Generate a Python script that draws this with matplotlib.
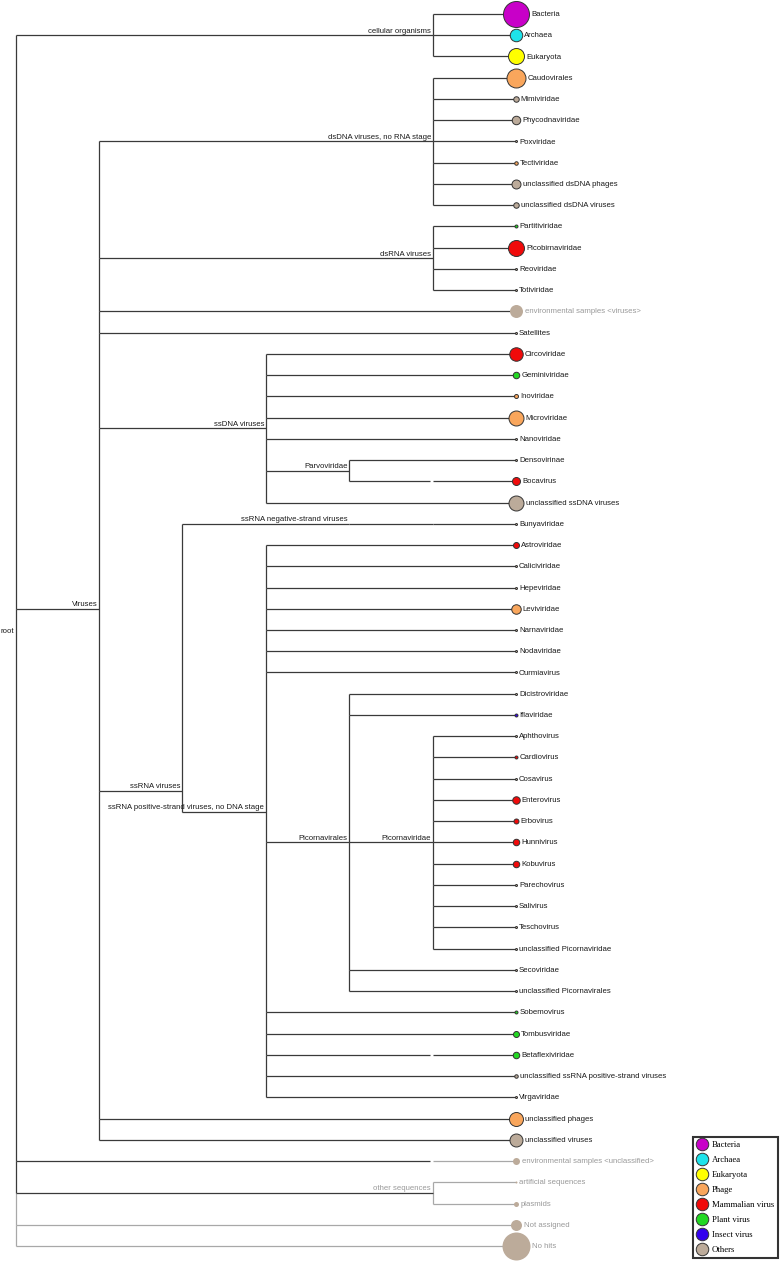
import matplotlib
matplotlib.use("Agg")
import matplotlib.pyplot as plt
from matplotlib.lines import Line2D

# ---- data ----
legend_groups = ["Bacteria", "Archaea", "Eukaryota", "Phage", "Mammalian virus",
                 "Plant virus", "Insect virus", "Others"]
group_colors = ["#c800c8", "#1ee3ea", "#ffff00", "#f9a65c", "#f00a0a",
                "#22d822", "#3300ee", "#bcab9a"]

leaf_names = [
    "Bacteria", "Archaea", "Eukaryota",
    "Caudovirales", "Mimiviridae", "Phycodnaviridae", "Poxviridae", "Tectiviridae",
    "unclassified dsDNA phages", "unclassified dsDNA viruses",
    "Partitiviridae", "Picobirnaviridae", "Reoviridae", "Totiviridae",
    "environmental samples <viruses>", "Satellites",
    "Circoviridae", "Geminiviridae", "Inoviridae", "Microviridae", "Nanoviridae",
    "Densovirinae", "Bocavirus", "unclassified ssDNA viruses",
    "Bunyaviridae",
    "Astroviridae", "Caliciviridae", "Hepeviridae", "Leviviridae", "Narnaviridae",
    "Nodaviridae", "Ourmiavirus", "Dicistroviridae", "Iflaviridae",
    "Aphthovirus", "Cardiovirus", "Cosavirus", "Enterovirus", "Erbovirus",
    "Hunnivirus", "Kobuvirus", "Parechovirus", "Salivirus", "Teschovirus",
    "unclassified Picornaviridae", "Secoviridae", "unclassified Picornavirales",
    "Sobemovirus", "Tombusviridae", "Betaflexiviridae",
    "unclassified ssRNA positive-strand viruses", "Virgaviridae",
    "unclassified phages", "unclassified viruses",
    "environmental samples <unclassified>", "artificial sequences", "plasmids",
    "Not assigned", "No hits",
]
leaf_groups = [
    "Bacteria", "Archaea", "Eukaryota",
    "Phage", "Others", "Others", "Others", "Phage", "Others", "Others",
    "Plant virus", "Mammalian virus", "Others", "Others",
    "Others", "Others",
    "Mammalian virus", "Plant virus", "Phage", "Phage", "Others",
    "Others", "Mammalian virus", "Others",
    "Others",
    "Mammalian virus", "Others", "Others", "Phage", "Others",
    "Others", "Others", "Others", "Insect virus",
    "Others", "Mammalian virus", "Others", "Mammalian virus", "Mammalian virus",
    "Mammalian virus", "Mammalian virus", "Others", "Others", "Others",
    "Others", "Others", "Others",
    "Plant virus", "Plant virus", "Plant virus", "Others", "Others",
    "Phage", "Others",
    "Others", "Others", "Others", "Others", "Others",
]
# relative abundance, as circle diameter
leaf_weight = [
    26, 12.5, 16,
    19, 5.5, 8.5, 2, 3.5, 9, 5.5,
    3, 16, 2, 2,
    13, 2,
    13.5, 6.5, 4, 15, 2,
    2, 8, 15,
    2,
    6, 2, 2, 9.5, 2,
    2, 2, 2, 3,
    2, 3, 2, 7.5, 5,
    6.5, 6.5, 2, 2, 2,
    2, 2, 2,
    3, 6, 6.5, 3.5, 2,
    14, 13,
    7, 2, 5, 11, 28,
]
faded = ["environmental samples <unclassified>", "artificial sequences",
         "plasmids", "Not assigned", "No hits"]
grey_text = faded + ["environmental samples <viruses>", "other sequences"]

# tree: (label, children); label None = hidden rank drawn as a gap
tree = ("root", [
    ("cellular organisms", ["Bacteria", "Archaea", "Eukaryota"]),
    ("Viruses", [
        ("dsDNA viruses, no RNA stage", [
            "Caudovirales", "Mimiviridae", "Phycodnaviridae", "Poxviridae",
            "Tectiviridae", "unclassified dsDNA phages", "unclassified dsDNA viruses"]),
        ("dsRNA viruses", ["Partitiviridae", "Picobirnaviridae", "Reoviridae", "Totiviridae"]),
        "environmental samples <viruses>",
        "Satellites",
        ("ssDNA viruses", [
            "Circoviridae", "Geminiviridae", "Inoviridae", "Microviridae", "Nanoviridae",
            ("Parvoviridae", ["Densovirinae", (None, ["Bocavirus"])]),
            "unclassified ssDNA viruses"]),
        ("ssRNA viruses", [
            ("ssRNA negative-strand viruses", [("", ["Bunyaviridae"])]),
            ("ssRNA positive-strand viruses, no DNA stage", [
                "Astroviridae", "Caliciviridae", "Hepeviridae", "Leviviridae",
                "Narnaviridae", "Nodaviridae", "Ourmiavirus",
                ("Picornavirales", [
                    "Dicistroviridae", "Iflaviridae",
                    ("Picornaviridae", [
                        "Aphthovirus", "Cardiovirus", "Cosavirus", "Enterovirus",
                        "Erbovirus", "Hunnivirus", "Kobuvirus", "Parechovirus",
                        "Salivirus", "Teschovirus", "unclassified Picornaviridae"]),
                    "Secoviridae", "unclassified Picornavirales"]),
                "Sobemovirus", "Tombusviridae", (None, ["Betaflexiviridae"]),
                "unclassified ssRNA positive-strand viruses", "Virgaviridae"])]),
        "unclassified phages", "unclassified viruses"]),
    (None, ["environmental samples <unclassified>"]),
    ("other sequences", ["artificial sequences", "plasmids"]),
    "Not assigned", "No hits"])

# two nodes sit off their leaf midpoint in the picture (row units)
node_row = {"ssRNA viruses": 36.57,
            "ssRNA positive-strand viruses, no DNA stage": 37.55}

# ---- drawing ----
DARK = "#3a3a3a"
LIGHT = "#a8a8a8"
FONT = "Liberation Sans"
FS = 5.6
MAXLEVEL = 6
GAP = 0.03

fig = plt.figure(figsize=(7.8, 12.61), dpi=100)
ax = fig.add_axes([0, 0, 1, 1])
ax.set_xlim(-0.1858, 9.164)
ax.set_ylim(58.707, -0.659)
ax.axis("off")

row_of = {n: i for i, n in enumerate(leaf_names)}
color_of = dict(zip(legend_groups, group_colors))


def layout(node):
    """returns (height, y, first_row, last_row, is_gap_node)"""
    if isinstance(node, str):
        r = row_of[node]
        return 0, r, r, r, False
    label, kids = node
    info = [layout(k) for k in kids]
    h = 1 + max(i[0] for i in info)
    first, last = info[0][2], info[-1][3]
    y = node_row.get(label, (first + last) / 2)
    lvl = MAXLEVEL - h
    ys = [i[1] for i in info]
    # vertical bar, piecewise so the unassigned part is lighter
    for a, b, k in zip(ys[:-1], ys[1:], kids[1:]):
        col = LIGHT if k in faded else DARK
        ax.plot([lvl, lvl], [a, b], color=col, lw=0.9, solid_capstyle="butt")
    for k, (kh, ky, _, _, kgap) in zip(kids, info):
        klvl = MAXLEVEL - kh
        end = klvl - GAP if kgap else klvl
        col = LIGHT if k in faded else DARK
        ax.plot([lvl, end], [ky, ky], color=col, lw=0.9, solid_capstyle="butt")
    if label:
        col = "#999999" if label in grey_text else "#1a1a1a"
        if label == "root":
            ax.annotate(label, (lvl, y), xytext=(-1.2, -1), textcoords="offset points",
                        ha="right", va="center", fontsize=FS, family=FONT, color=col)
        else:
            ax.annotate(label, (lvl, y), xytext=(-1.2, 0.4), textcoords="offset points",
                        ha="right", va="bottom", fontsize=FS, family=FONT, color=col)
    return h, y, first, last, label is None


layout(tree)

# leaf circles and names
for name, grp, w in zip(leaf_names, leaf_groups, leaf_weight):
    r = row_of[name]
    fc = color_of[grp]
    soft = name in faded or name == "environmental samples <viruses>"
    ec = fc if soft else "#333333"
    ax.scatter([MAXLEVEL], [r], s=(w * 0.72) ** 2, facecolor=fc, edgecolor=ec,
               linewidth=0.7 if not soft else 0, zorder=3)
    tc = "#999999" if name in grey_text else "#1a1a1a"
    ax.annotate(name, (MAXLEVEL, r), xytext=((w / 2 + 2) * 0.72, -0.4),
                textcoords="offset points", ha="left", va="center",
                fontsize=FS, family=FONT, color=tc)

handles = [Line2D([], [], ls="", marker="o", markersize=9, markerfacecolor=c,
                  markeredgecolor="#333333", markeredgewidth=0.7) for c in group_colors]
leg = ax.legend(handles, legend_groups, loc="lower right",
                bbox_to_anchor=(778 / 780, 3 / 1261), bbox_transform=fig.transFigure,
                prop={"family": "Liberation Serif", "size": 6.3},
                frameon=True, fancybox=False, borderpad=0.45, borderaxespad=0,
                handlelength=1.1, handletextpad=0.6, labelspacing=0.78)
leg.get_frame().set_edgecolor("black")
leg.get_frame().set_linewidth(1.5)

fig.savefig("out.png", dpi=100, facecolor="white")
